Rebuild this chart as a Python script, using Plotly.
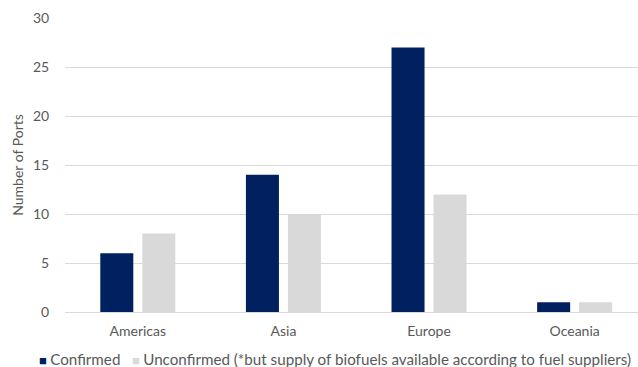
import plotly.graph_objects as go

regions = ["Americas", "Asia", "Europe", "Oceania"]
confirmed = [6, 14, 27, 1]
unconfirmed = [8, 10, 12, 1]
series_names = ["Confirmed", "Unconfirmed (*but supply of biofuels available according to fuel suppliers)"]
y_ticks = [0, 5, 10, 15, 20, 25, 30]

NAVY = "#002060"
GRAY = "#D9D9D9"
TXT = "#595959"
FONT = "Lato"

W, H = 638, 367
ML, MR, MT, MB = 65, 0, 18, 55
PW, PH = W - ML - MR, H - MT - MB

fig = go.Figure()
fig.add_trace(go.Bar(x=regions, y=confirmed, name=series_names[0], marker=dict(color=NAVY, line=dict(width=0))))
fig.add_trace(go.Bar(x=regions, y=unconfirmed, name=series_names[1], marker=dict(color=GRAY, line=dict(width=0))))

# Legend drawn as text entries (square glyph + label)
legend_px = [(37, series_names[0], NAVY), (130, series_names[1], GRAY)]
for px, name, col in legend_px:
    fig.add_annotation(
        xref="paper", yref="paper",
        x=(px - ML) / PW, y=-(359 - (H - MB)) / PH,
        xanchor="left", yanchor="middle", showarrow=False,
        text=f'<span style="font-size:13px;color:{col}">■ </span>{name}',
        font=dict(family=FONT, size=15.2, color=TXT),
    )

fig.update_layout(
    width=W, height=H,
    margin=dict(l=ML, r=MR, t=MT, b=MB, autoexpand=False),
    paper_bgcolor="white", plot_bgcolor="white",
    barmode="group", bargap=0.423, bargroupgap=0.214,
    font=dict(family=FONT, size=14, color=TXT),
    showlegend=False,
    xaxis=dict(type="category", range=[-0.5, 3.435], showgrid=False, showline=False,
               ticks="outside", ticklen=6, tickcolor="rgba(0,0,0,0)", tickfont=dict(size=14, color=TXT)),
    yaxis=dict(range=[0, 30], tickvals=y_ticks, showgrid=True, gridcolor=GRAY, gridwidth=1,
               zeroline=True, zerolinecolor=GRAY, zerolinewidth=1,
               ticks="outside", ticklen=12, tickcolor="rgba(0,0,0,0)",
               tickfont=dict(size=14, color=TXT),
               title=dict(text="Number of Ports", font=dict(size=14, color=TXT), standoff=6)),
)

fig.write_html("out.html")
